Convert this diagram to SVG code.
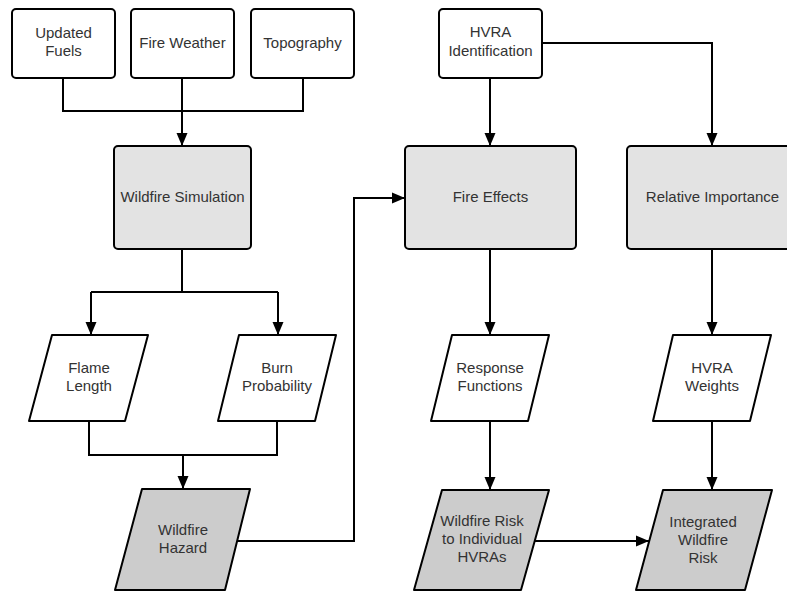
<svg xmlns="http://www.w3.org/2000/svg" width="787" height="592" viewBox="0 0 787 592">
<style>
.box{stroke:#000;stroke-width:2;fill:#fff}
.light{fill:#e3e3e3}
.dark{fill:#cccccc}
.para{stroke:#000;stroke-width:2;stroke-linejoin:round}
.t{font-family:"Liberation Sans",Arial,sans-serif;font-size:15px;fill:#333;text-anchor:middle}
.c{fill:none;stroke:#000;stroke-width:2}
</style>
<defs>
<marker id="ah" markerUnits="userSpaceOnUse" markerWidth="14" markerHeight="12" refX="13" refY="6" orient="auto">
<path d="M0,0.5 L13,6 L0,11.5 Z" fill="#000"/>
</marker>
</defs>
<rect width="787" height="592" fill="#fff"/>
<g id="connectors">
<path class="c" d="M63,78 V111 H303 V78"/>
<path class="c" d="M182,78 V146" marker-end="url(#ah)"/>
<path class="c" d="M490,78 V146" marker-end="url(#ah)"/>
<path class="c" d="M542,43 H712 V146" marker-end="url(#ah)"/>
<path class="c" d="M182,249 V292"/>
<path class="c" d="M91,292 H278"/>
<path class="c" d="M91,292 V335" marker-end="url(#ah)"/>
<path class="c" d="M278,292 V335" marker-end="url(#ah)"/>
<path class="c" d="M89,421 V455 H277 V421"/>
<path class="c" d="M183,455 V489" marker-end="url(#ah)"/>
<path class="c" d="M237,541 H354 V198 H405" marker-end="url(#ah)"/>
<path class="c" d="M490,249 V335" marker-end="url(#ah)"/>
<path class="c" d="M712,249 V335" marker-end="url(#ah)"/>
<path class="c" d="M490,421 V490" marker-end="url(#ah)"/>
<path class="c" d="M712,421 V490" marker-end="url(#ah)"/>
<path class="c" d="M535,541 H649" marker-end="url(#ah)"/>
</g>
<g id="updated-fuels">
<rect class="box" x="12" y="9" width="103" height="69" rx="4"/>
<text class="t" x="63.5" y="38">Updated</text>
<text class="t" x="63.5" y="56">Fuels</text>
</g>
<g id="fire-weather">
<rect class="box" x="131" y="9" width="103" height="69" rx="4"/>
<text class="t" x="182.5" y="48">Fire Weather</text>
</g>
<g id="topography">
<rect class="box" x="251" y="9" width="103" height="69" rx="4"/>
<text class="t" x="302.5" y="48">Topography</text>
</g>
<g id="hvra-identification">
<rect class="box" x="439" y="9" width="103" height="69" rx="4"/>
<text class="t" x="490.5" y="37">HVRA</text>
<text class="t" x="490.5" y="56">Identification</text>
</g>
<g id="wildfire-simulation">
<rect class="box light" x="114" y="146" width="137" height="103" rx="4"/>
<text class="t" x="182.5" y="202">Wildfire Simulation</text>
</g>
<g id="fire-effects">
<rect class="box light" x="405" y="146" width="171" height="103" rx="4"/>
<text class="t" x="490.5" y="202">Fire Effects</text>
</g>
<g id="relative-importance">
<rect class="box light" x="627" y="146" width="171" height="103" rx="4"/>
<text class="t" x="712.5" y="202">Relative Importance</text>
</g>
<g id="flame-length">
<path class="para" fill="#fff" d="M52,335 H148 L125,421 H29 Z"/>
<text class="t" x="89" y="373">Flame</text>
<text class="t" x="89" y="391">Length</text>
</g>
<g id="burn-probability">
<path class="para" fill="#fff" d="M239,335 H336 L315,421 H218 Z"/>
<text class="t" x="277" y="373">Burn</text>
<text class="t" x="277" y="391">Probability</text>
</g>
<g id="response-functions">
<path class="para" fill="#fff" d="M452,335 H549 L528,421 H431 Z"/>
<text class="t" x="490" y="373">Response</text>
<text class="t" x="490" y="391">Functions</text>
</g>
<g id="hvra-weights">
<path class="para" fill="#fff" d="M673,335 H771 L750,421 H653 Z"/>
<text class="t" x="712" y="373">HVRA</text>
<text class="t" x="712" y="391">Weights</text>
</g>
<g id="wildfire-hazard">
<path class="para dark" d="M142,489 H250 L225,590 H115 Z"/>
<text class="t" x="183" y="535">Wildfire</text>
<text class="t" x="183" y="553">Hazard</text>
</g>
<g id="wildfire-risk-individual">
<path class="para dark" d="M442,490 H549 L521,590 H414 Z"/>
<text class="t" x="482" y="526">Wildfire Risk</text>
<text class="t" x="482" y="544">to Individual</text>
<text class="t" x="482" y="562">HVRAs</text>
</g>
<g id="integrated-wildfire-risk">
<path class="para dark" d="M663,490 H772 L745,590 H636 Z"/>
<text class="t" x="703" y="527">Integrated</text>
<text class="t" x="703" y="545">Wildfire</text>
<text class="t" x="703" y="563">Risk</text>
</g>
</svg>
